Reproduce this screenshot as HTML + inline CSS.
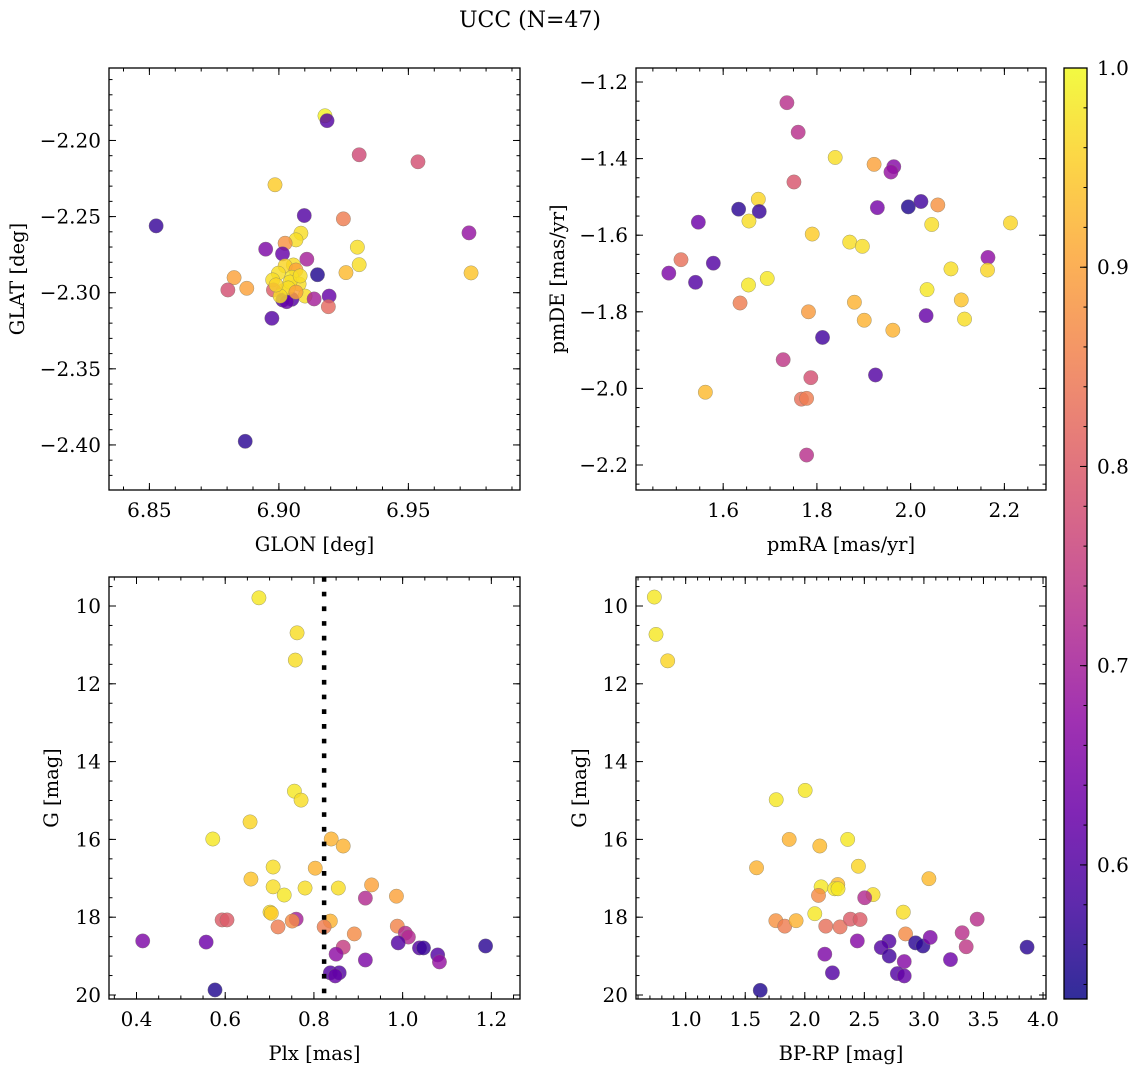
<!DOCTYPE html>
<html><head><meta charset="utf-8"><title>UCC (N=47)</title>
<style>html,body{margin:0;padding:0;background:#fff}svg{display:block;font-family:"DejaVu Serif","Liberation Serif",serif}</style>
</head><body>
<svg id="fig" width="1136" height="1067" viewBox="0 0 1136 1067" xmlns="http://www.w3.org/2000/svg">
<text x="530" y="27" text-anchor="middle" font-size="22">UCC (N=47)</text>
</svg>
<script>
// ---- Panel 1: GLON / GLAT ----
const glon=[6.9098,6.9249,6.9085,6.9066,6.9024,6.8949,6.9014,6.9303,6.9310,6.9259,6.9108,6.9149,6.8827,6.8876,6.8803,6.9056,6.9024,6.9066,6.8998,6.9050,6.8976,6.9078,6.9017,6.8979,6.9101,6.9050,6.9015,6.9136,6.9194,6.9191,6.8973,6.9030,6.9178,6.9186,6.9310,6.9537,6.8526,6.8985,6.9734,6.9742,6.8870,6.9043,6.9036,6.9066,6.9005,6.8989,6.9082];
const glat=[-2.2493,-2.2515,-2.2609,-2.2653,-2.2675,-2.2714,-2.2745,-2.2701,-2.2816,-2.2868,-2.2780,-2.2882,-2.2901,-2.2971,-2.2982,-2.2818,-2.2824,-2.2851,-2.2872,-2.2899,-2.2916,-2.2943,-2.2987,-2.2982,-2.3022,-2.3043,-2.3048,-2.3041,-2.3022,-2.3092,-2.3168,-2.3059,-2.1838,-2.1870,-2.2094,-2.2140,-2.2561,-2.2291,-2.2607,-2.2870,-2.3976,-2.2930,-2.2969,-2.2996,-2.3022,-2.2949,-2.2890];
const prob1=[0.6,0.85,0.97,0.97,0.88,0.65,0.62,0.97,0.97,0.93,0.7,0.55,0.9,0.9,0.78,0.97,0.96,0.9,0.97,0.98,0.97,0.97,0.96,0.8,0.97,0.6,0.6,0.7,0.62,0.82,0.6,0.62,0.99,0.6,0.77,0.78,0.57,0.95,0.68,0.94,0.56,0.97,0.97,0.9,0.97,0.96,0.97];
// ---- Panel 2: pmRA / pmDE ----
const pmra=[1.736,1.760,1.839,1.922,1.964,1.958,1.751,1.675,1.633,1.677,1.655,1.547,1.929,1.995,2.022,2.058,2.045,2.213,1.790,1.870,1.897,1.510,1.579,1.484,1.541,1.654,1.694,2.165,2.086,2.164,2.035,1.636,1.880,2.108,1.782,2.033,1.901,2.115,1.962,1.812,1.728,1.787,1.925,1.562,1.767,1.778,1.778];
const pmde=[-1.254,-1.331,-1.397,-1.415,-1.421,-1.435,-1.461,-1.506,-1.532,-1.538,-1.563,-1.566,-1.528,-1.526,-1.512,-1.521,-1.572,-1.568,-1.597,-1.618,-1.629,-1.664,-1.673,-1.699,-1.723,-1.730,-1.713,-1.658,-1.688,-1.691,-1.742,-1.777,-1.775,-1.769,-1.800,-1.810,-1.822,-1.819,-1.848,-1.867,-1.925,-1.972,-1.965,-2.010,-2.028,-2.026,-2.174];
const prob2=[0.73,0.73,0.97,0.9,0.66,0.68,0.79,0.96,0.56,0.57,0.97,0.63,0.64,0.55,0.58,0.88,0.97,0.96,0.95,0.97,0.97,0.83,0.6,0.65,0.6,0.98,0.98,0.67,0.97,0.96,0.98,0.85,0.92,0.94,0.89,0.62,0.92,0.97,0.92,0.58,0.74,0.78,0.6,0.93,0.83,0.85,0.73];
// ---- Panel 3: Plx / G ----
const plx=[0.676,0.762,0.758,0.756,0.771,0.656,0.572,0.839,0.866,0.708,0.803,0.658,0.708,0.780,0.855,0.733,0.930,0.916,0.986,0.701,0.704,0.593,0.604,0.760,0.751,0.837,0.719,0.823,0.988,1.006,1.013,0.891,0.414,0.557,0.990,0.866,0.850,1.038,1.047,1.079,1.083,1.187,0.916,0.837,0.857,0.848,0.577];
const gmag3=[9.79,10.69,11.39,14.76,14.99,15.55,15.99,15.99,16.17,16.71,16.74,17.02,17.22,17.25,17.25,17.43,17.17,17.51,17.46,17.87,17.90,18.07,18.07,18.05,18.10,18.10,18.25,18.25,18.23,18.41,18.51,18.43,18.61,18.64,18.66,18.77,18.95,18.79,18.79,18.97,19.15,18.74,19.10,19.43,19.43,19.51,19.87];
const prob3=[0.98,0.97,0.97,0.98,0.97,0.96,0.98,0.92,0.92,0.97,0.92,0.94,0.97,0.97,0.97,0.98,0.9,0.72,0.9,0.97,0.95,0.8,0.8,0.7,0.87,0.92,0.85,0.85,0.86,0.72,0.72,0.87,0.65,0.63,0.6,0.75,0.67,0.6,0.57,0.6,0.68,0.56,0.65,0.6,0.6,0.62,0.55];
const plxLine=[0.823];
// ---- Panel 4: BP-RP / G ----
const bprp=[0.737,0.751,0.849,1.760,2.003,1.869,2.126,2.360,2.450,1.595,3.042,2.137,2.277,2.251,2.279,2.573,2.503,2.115,2.084,2.827,1.757,1.832,1.927,2.176,2.296,2.383,2.464,3.447,2.846,3.321,3.355,2.441,2.707,2.642,2.709,2.930,2.992,3.053,3.866,2.168,2.835,3.223,2.232,2.777,2.835,1.626];
const gmag4=[9.77,10.73,11.41,14.98,14.74,16.00,16.17,16.00,16.69,16.73,17.01,17.22,17.16,17.27,17.27,17.42,17.50,17.44,17.91,17.87,18.09,18.23,18.09,18.23,18.25,18.05,18.06,18.05,18.43,18.40,18.76,18.61,18.62,18.78,19.00,18.66,18.74,18.52,18.77,18.95,19.14,19.09,19.43,19.45,19.51,19.88];
const prob4=[0.98,0.98,0.96,0.98,0.98,0.92,0.93,0.98,0.96,0.92,0.93,0.98,0.93,0.98,0.98,0.97,0.72,0.87,0.98,0.97,0.88,0.85,0.92,0.83,0.83,0.8,0.8,0.73,0.87,0.73,0.74,0.66,0.6,0.6,0.58,0.56,0.56,0.65,0.56,0.65,0.66,0.63,0.6,0.6,0.62,0.55];
// ---- Ticks ----
const ticks1x=[6.85,6.90,6.95], ticks1y=[-2.20,-2.25,-2.30,-2.35,-2.40];
const ticks2x=[1.6,1.8,2.0,2.2], ticks2y=[-1.2,-1.4,-1.6,-1.8,-2.0,-2.2];
const ticks3x=[0.4,0.6,0.8,1.0,1.2], ticksGy=[10,12,14,16,18,20];
const ticks4x=[1.0,1.5,2.0,2.5,3.0,3.5,4.0];
const cbTicks=[0.6,0.7,0.8,0.9,1.0];
const VMIN=0.5327, VMAX=1.0;

const NS="http://www.w3.org/2000/svg";
const svg=document.getElementById('fig');
const TF=20, LF=19.5;
function mk(tag,attrs,parent){const e=document.createElementNS(NS,tag);for(const k in attrs)e.setAttribute(k,attrs[k]);(parent||svg).appendChild(e);return e;}
const plasma=[[13,8,135],[65,4,157],[106,0,168],[143,13,164],[177,42,144],[204,71,120],[225,100,98],[242,132,75],[252,166,54],[252,206,37],[240,249,33]];
function cmap(v){let t=(v-VMIN)/(VMAX-VMIN);t=Math.max(0,Math.min(1,t))*10;const i=Math.min(9,Math.floor(t)),f=t-i;const a=plasma[i],b=plasma[i+1];return 'rgb('+[0,1,2].map(k=>Math.round(a[k]+(b[k]-a[k])*f)).join(',')+')';}
function fmt(v,d){return (v<0?'\u2212':'')+Math.abs(v).toFixed(d);}

function panel(o){
  const g=mk('g',{});
  
  
  const sx=v=>o.x0+(v-o.xmin)/(o.xmax-o.xmin)*(o.x1-o.x0);
  const sy=o.inv?(v=>o.y0+(v-o.ymin)/(o.ymax-o.ymin)*(o.y1-o.y0)):(v=>o.y1-(v-o.ymin)/(o.ymax-o.ymin)*(o.y1-o.y0));
  const cid='clip-'+o.name;
  const cp=mk('clipPath',{id:cid},g);mk('rect',{x:o.x0,y:o.y0,width:o.x1-o.x0,height:o.y1-o.y0},cp);
  const pts=mk('g',{'clip-path':'url(#'+cid+')'},g);
  
  
  for(let i=0;i<o.xs.length;i++){
    const c=mk('circle',{cx:sx(o.xs[i]),cy:sy(o.ys[i]),r:7.2,fill:cmap(o.ps[i]),'fill-opacity':0.82,stroke:'#7a7a6a','stroke-width':0.5,'stroke-opacity':0.7},pts);
    
    
  }
  if(o.vline){for(const v of o.vline){const l=mk('line',{x1:sx(v),x2:sx(v),y1:o.y0,y2:o.y1,stroke:'#000','stroke-width':4.5,'stroke-dasharray':'4.7 10'},pts);
    
    }}
  const tk=mk('g',{stroke:'#000','stroke-width':1},g);
  const xminor=[];for(let v=Math.ceil(o.xmin/o.xm-1e-6)*o.xm;v<=o.xmax+1e-9;v+=o.xm)xminor.push(v);
  const yminor=[];for(let v=Math.ceil(o.ymin/o.ym-1e-6)*o.ym;v<=o.ymax+1e-9;v+=o.ym)yminor.push(v);
  for(const v of xminor){const X=sx(v);mk('line',{x1:X,x2:X,y1:o.y1,y2:o.y1-3.5},tk);mk('line',{x1:X,x2:X,y1:o.y0,y2:o.y0+3.5},tk);}
  for(const v of yminor){const Y=sy(v);mk('line',{x1:o.x0,x2:o.x0+3.5,y1:Y,y2:Y},tk);mk('line',{x1:o.x1,x2:o.x1-3.5,y1:Y,y2:Y},tk);}
  for(const v of o.xt){const X=sx(v);mk('line',{x1:X,x2:X,y1:o.y1,y2:o.y1-7},tk);mk('line',{x1:X,x2:X,y1:o.y0,y2:o.y0+7},tk);
    const t=mk('text',{x:X,y:o.y1+27,'text-anchor':'middle','font-size':TF},g);t.textContent=fmt(v,o.xd);
    
    }
  for(const v of o.yt){const Y=sy(v);mk('line',{x1:o.x0,x2:o.x0+7,y1:Y,y2:Y},tk);mk('line',{x1:o.x1,x2:o.x1-7,y1:Y,y2:Y},tk);
    const t=mk('text',{x:o.x0-8,y:Y+7,'text-anchor':'end','font-size':TF},g);t.textContent=fmt(v,o.yd);
    
    }
  mk('rect',{x:o.x0,y:o.y0,width:o.x1-o.x0,height:o.y1-o.y0,fill:'none',stroke:'#000','stroke-width':1.3},g);
  const xl=mk('text',{x:(o.x0+o.x1)/2,y:o.y1+61,'text-anchor':'middle','font-size':LF},g);xl.textContent=o.xlab;
  
  
  const yl=mk('text',{x:o.ylx,y:(o.y0+o.y1)/2,'text-anchor':'middle','font-size':LF,transform:'rotate(-90 '+o.ylx+' '+((o.y0+o.y1)/2)+')'},g);yl.textContent=o.ylab;
  
  
}
panel({name:'glon-glat-panel',x0:109,x1:520,y0:68,y1:490,xmin:6.8344,xmax:6.9931,ymin:-2.4296,ymax:-2.1524,xs:glon,ys:glat,ps:prob1,xt:ticks1x,yt:ticks1y,xd:2,yd:2,xm:0.01,ym:0.01,xlab:'GLON [deg]',ylab:'GLAT [deg]',ylx:24});
panel({name:'pm-panel',x0:636,x1:1046,y0:68,y1:490,xmin:1.414,xmax:2.2888,ymin:-2.2653,ymax:-1.1634,xs:pmra,ys:pmde,ps:prob2,xt:ticks2x,yt:ticks2y,xd:1,yd:1,xm:0.05,ym:0.05,xlab:'pmRA [mas/yr]',ylab:'pmDE [mas/yr]',ylx:564});
panel({name:'plx-g-panel',x0:109,x1:520,y0:577,y1:999,xmin:0.338,xmax:1.2646,ymin:9.2545,ymax:20.103,inv:true,xs:plx,ys:gmag3,ps:prob3,xt:ticks3x,yt:ticksGy,xd:1,yd:0,xm:0.05,ym:0.5,xlab:'Plx [mas]',ylab:'G [mag]',ylx:58,vline:plxLine});
panel({name:'cmd-panel',x0:636,x1:1046,y0:577,y1:999,xmin:0.583,xmax:4.025,ymin:9.2545,ymax:20.103,inv:true,xs:bprp,ys:gmag4,ps:prob4,xt:ticks4x,yt:ticksGy,xd:1,yd:0,xm:0.1,ym:0.5,xlab:'BP-RP [mag]',ylab:'G [mag]',ylx:586});

(function(){
  const x0=1064,x1=1087,y0=68,y1=999;
  const g=mk('g',{});
  
  
  const defs=mk('defs',{},g);
  const lg=mk('linearGradient',{id:'cbgrad',x1:0,y1:1,x2:0,y2:0},defs);
  for(let i=0;i<=20;i++){const v=VMIN+(VMAX-VMIN)*i/20;mk('stop',{offset:i/20,'stop-color':cmap(v),'stop-opacity':0.85},lg);}
  mk('rect',{x:x0,y:y0,width:x1-x0,height:y1-y0,fill:'url(#cbgrad)'},g);
  const sy=v=>y1-(v-VMIN)/(VMAX-VMIN)*(y1-y0);
  for(let v=0.54;v<=1.0001;v+=0.02){const Y=sy(v);mk('line',{x1:x1,x2:x1-3.5,y1:Y,y2:Y,stroke:'#000'},g);}
  for(const v of cbTicks){const Y=sy(v);mk('line',{x1:x1,x2:x1-7,y1:Y,y2:Y,stroke:'#000'},g);
    const t=mk('text',{x:x1+10,y:Y+7,'font-size':TF},g);t.textContent=v.toFixed(1);
    
    }
  mk('rect',{x:x0,y:y0,width:x1-x0,height:y1-y0,fill:'none',stroke:'#000','stroke-width':1.3},g);
})();
</script>
</body></html>
